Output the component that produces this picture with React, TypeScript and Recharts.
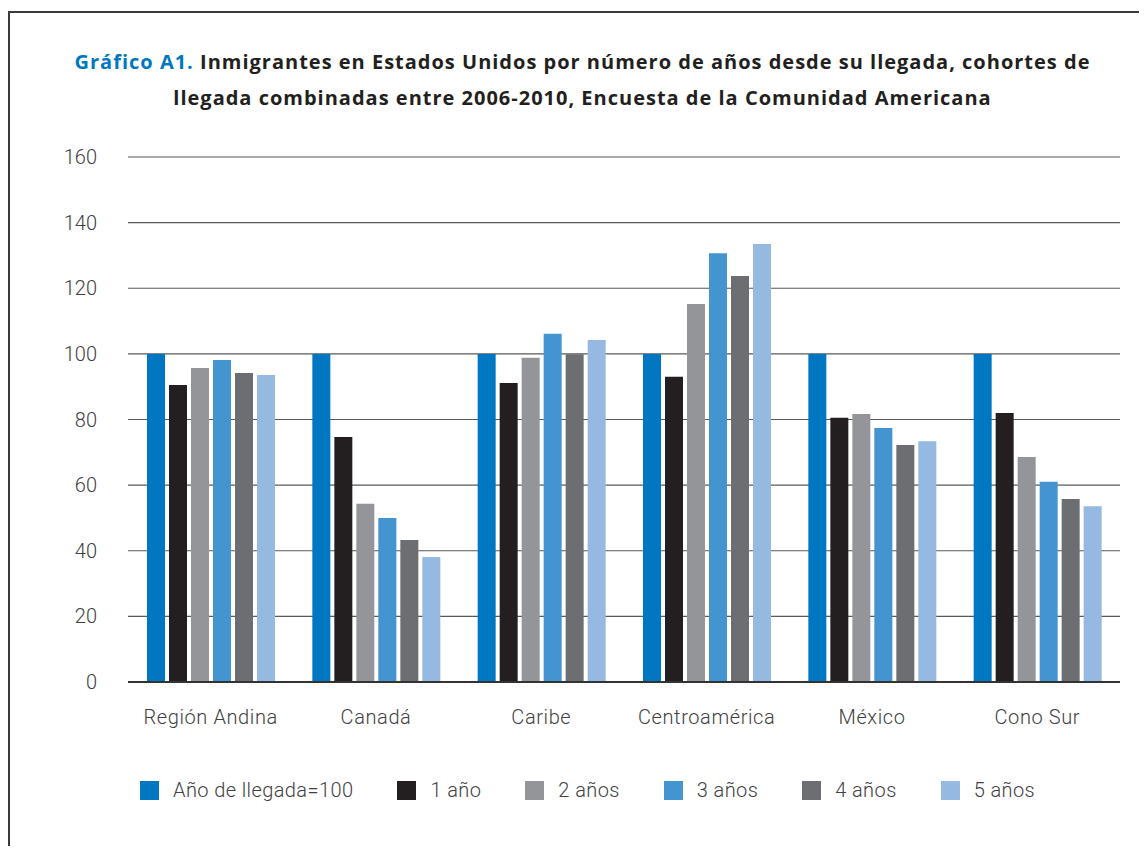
import React from 'react';
import { BarChart, Bar, XAxis, YAxis, CartesianGrid, Legend } from 'recharts';

const categories = ['Región Andina', 'Canadá', 'Caribe', 'Centroamérica', 'México', 'Cono Sur'];
const base100 = [100, 100, 100, 100, 100, 100];
const year1 = [90.5, 74.7, 91.1, 93.0, 80.5, 82.0];
const year2 = [95.7, 54.3, 98.8, 115.2, 81.7, 68.6];
const year3 = [98.1, 50.0, 106.1, 130.7, 77.4, 61.0];
const year4 = [94.2, 43.3, 99.9, 123.7, 72.2, 55.8];
const year5 = [93.6, 38.1, 104.2, 133.5, 73.4, 53.6];
const yTicks = [0, 20, 40, 60, 80, 100, 120, 140, 160];

const seriesDefs = [
  { key: 'base', name: 'Año de llegada=100', color: '#0077c0', values: base100 },
  { key: 'y1', name: '1 año', color: '#231f20', values: year1 },
  { key: 'y2', name: '2 años', color: '#939598', values: year2 },
  { key: 'y3', name: '3 años', color: '#4394d0', values: year3 },
  { key: 'y4', name: '4 años', color: '#6d6e71', values: year4 },
  { key: 'y5', name: '5 años', color: '#95b9e1', values: year5 },
];

const data = categories.map((c, i) => {
  const row: Record<string, any> = { category: c };
  seriesDefs.forEach((s) => {
    row[s.key] = s.values[i];
  });
  return row;
});

const FONT = 'Roboto, "Noto Sans", sans-serif';
const TEXT = '#414042';

const LegendContent = () => (
  <div
    style={{
      display: 'flex',
      alignItems: 'center',
      fontFamily: FONT,
      fontWeight: 300,
      fontSize: 20,
      color: TEXT,
    }}
  >
    {seriesDefs.map((s, i) => (
      <div key={s.key} style={{ display: 'flex', alignItems: 'center', marginRight: i < seriesDefs.length - 1 ? 44 : 0 }}>
        <div style={{ width: 19, height: 19, background: s.color, marginRight: 14 }} />
        <span style={{ letterSpacing: 0.4 }}>{s.name}</span>
      </div>
    ))}
  </div>
);

export default function App() {
  return (
    <div
      style={{
        position: 'relative',
        marginTop: 3,
        width: 1137,
        height: 833,
        borderTop: '2px solid #3a3a3a',
        borderLeft: '2px solid #3a3a3a',
        overflow: 'hidden',
        background: '#fff',
      }}
    >
      <div
        style={{
          position: 'absolute',
          left: 0,
          top: 31,
          width: 1145,
          textAlign: 'center',
          fontFamily: '"Open Sans", Roboto, sans-serif',
          fontWeight: 700,
          fontSize: 20,
          lineHeight: '36px',
          letterSpacing: 1,
          color: '#231f20',
        }}
      >
        <div>
          <span style={{ color: '#0077c0' }}>Gráfico A1.</span> Inmigrantes en Estados Unidos por número de años desde su llegada, cohortes de
        </div>
        <div>llegada combinadas entre 2006-2010, Encuesta de la Comunidad Americana</div>
      </div>
      <div style={{ position: 'absolute', left: -10, top: -13 }}>
        <BarChart
          width={1147}
          height={855}
          data={data}
          margin={{ top: 157, right: 27, left: 68, bottom: 109 }}
          barSize={18}
          barGap={4}
        >
          <CartesianGrid vertical={false} stroke="#5a5a5a" strokeWidth={1.2} />
          <XAxis
            dataKey="category"
            tickLine={false}
            tickSize={0}
            tickMargin={28}
            axisLine={{ stroke: '#333', strokeWidth: 2 }}
            tick={{ fill: TEXT, fontSize: 20, fontFamily: FONT, fontWeight: 300, letterSpacing: 0.6 }}
            interval={0}
            height={40}
          />
          <YAxis
            width={60}
            domain={[0, 160]}
            ticks={yTicks}
            tickLine={false}
            tickSize={0}
            tickMargin={31}
            axisLine={false}
            tick={{ fill: TEXT, fontSize: 20, fontFamily: FONT, fontWeight: 300 }}
          />
          <Legend
            content={<LegendContent />}
            wrapperStyle={{ position: 'absolute', left: 140, top: 778, width: 'auto' }}
          />
          {seriesDefs.map((s) => (
            <Bar key={s.key} dataKey={s.key} name={s.name} fill={s.color} isAnimationActive={false} />
          ))}
        </BarChart>
      </div>
    </div>
  );
}
